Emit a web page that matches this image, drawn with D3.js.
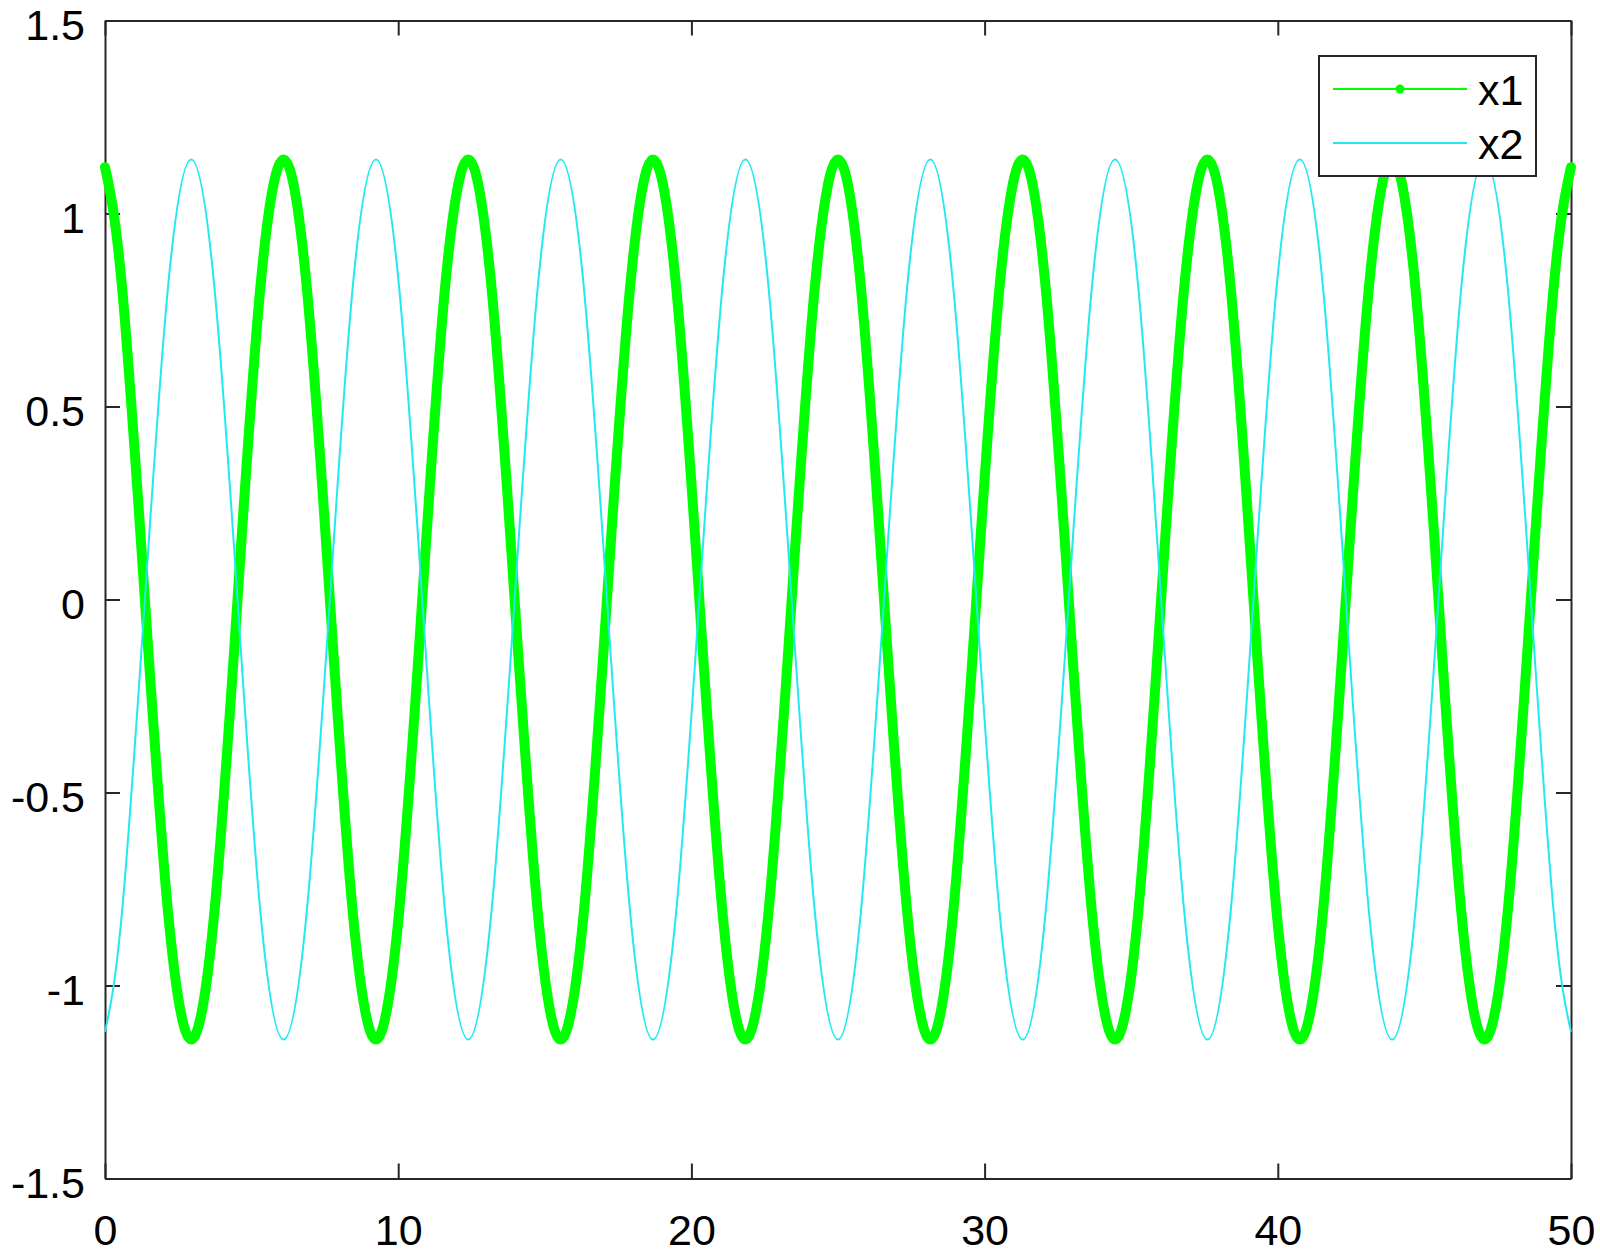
<!DOCTYPE html>
<html>
<head>
<meta charset="utf-8">
<script src="https://cdn.jsdelivr.net/npm/d3@7"></script>
<style>
  body { margin: 0; background: #fff; }
  svg { display: block; font-family: Arial, "Liberation Sans", Helvetica, sans-serif; }
</style>
</head>
<body>
<div id="chart"></div>
<script>
// time samples (peaks, troughs, zero crossings and the points between)
var t_data = [0, 0.58, 1.36, 2.15, 2.94, 3.73, 4.52, 5.30, 6.09,
              6.88, 7.67, 8.45, 9.24, 10.03, 10.82, 11.60, 12.39,
              13.18, 13.97, 14.76, 15.54, 16.33, 17.12, 17.91, 18.69,
              19.48, 20.27, 21.06, 21.84, 22.63, 23.42, 24.21, 25.00,
              25.78, 26.57, 27.36, 28.15, 28.93, 29.72, 30.51, 31.30,
              32.08, 32.87, 33.66, 34.45, 35.24, 36.02, 36.81, 37.60,
              38.39, 39.17, 39.96, 40.75, 41.54, 42.32, 43.11, 43.90,
              44.69, 45.48, 46.26, 47.05, 47.84, 48.63, 49.41, 50];

var x1_data = [1.12, 0.81, 0, -0.81, -1.14, -0.81, 0, 0.81, 1.14,
               0.81, 0, -0.81, -1.14, -0.81, 0, 0.81, 1.14,
               0.81, 0, -0.81, -1.14, -0.81, 0, 0.81, 1.14,
               0.81, 0, -0.81, -1.14, -0.81, 0, 0.81, 1.14,
               0.81, 0, -0.81, -1.14, -0.81, 0, 0.81, 1.14,
               0.81, 0, -0.81, -1.14, -0.81, 0, 0.81, 1.14,
               0.81, 0, -0.81, -1.14, -0.81, 0, 0.81, 1.14,
               0.81, 0, -0.81, -1.14, -0.81, 0, 0.81, 1.12];

var x2_data = [-1.12, -0.81, 0, 0.81, 1.14, 0.81, 0, -0.81, -1.14,
               -0.81, 0, 0.81, 1.14, 0.81, 0, -0.81, -1.14,
               -0.81, 0, 0.81, 1.14, 0.81, 0, -0.81, -1.14,
               -0.81, 0, 0.81, 1.14, 0.81, 0, -0.81, -1.14,
               -0.81, 0, 0.81, 1.14, 0.81, 0, -0.81, -1.14,
               -0.81, 0, 0.81, 1.14, 0.81, 0, -0.81, -1.14,
               -0.81, 0, 0.81, 1.14, 0.81, 0, -0.81, -1.14,
               -0.81, 0, 0.81, 1.14, 0.81, 0, -0.81, -1.12];

var x_ticks = [0, 10, 20, 30, 40, 50];
var y_ticks = [-1.5, -1, -0.5, 0, 0.5, 1, 1.5];
var y_tick_labels = ["-1.5", "-1", "-0.5", "0", "0.5", "1", "1.5"];
var series_names = ["x1", "x2"];

var width = 1600, height = 1254;
var margin = {top: 20.5, right: 29, bottom: 75.5, left: 105};
var axis_color = "#262626";

var svg = d3.select("#chart").append("svg").attr("width", width).attr("height", height);
var g = svg.append("g").attr("transform", "translate(" + margin.left + "," + margin.top + ")");

var plot_w = width - margin.left - margin.right,
    plot_h = height - margin.top - margin.bottom;

var x = d3.scaleLinear().domain([0, 50]).range([0, plot_w]);
var y = d3.scaleLinear().domain([-1.5, 1.5]).range([plot_h, 0]);

function styleAxis(sel) {
    sel.selectAll(".domain").attr("stroke", axis_color).attr("stroke-width", 2);
    sel.selectAll(".tick line").attr("stroke", axis_color).attr("stroke-width", 2);
    sel.selectAll("text").attr("fill", "#000").attr("font-size", "43px");
}

// box with inward ticks on all four sides
var bottom_axis = g.append("g").attr("transform", "translate(0," + plot_h + ")")
    .call(d3.axisBottom(x).tickValues(x_ticks).tickSize(-15).tickPadding(36).tickSizeOuter(0).tickFormat(d3.format("d")));
styleAxis(bottom_axis);

var top_axis = g.append("g")
    .call(d3.axisTop(x).tickValues(x_ticks).tickSize(-15).tickSizeOuter(0).tickFormat(""));
styleAxis(top_axis);

var left_axis = g.append("g")
    .call(d3.axisLeft(y).tickValues(y_ticks).tickSize(-15).tickPadding(20).tickSizeOuter(0)
          .tickFormat((d, i) => y_tick_labels[i]));
styleAxis(left_axis);
left_axis.selectAll("text").attr("dy", "0.45em");

var right_axis = g.append("g").attr("transform", "translate(" + plot_w + ",0)")
    .call(d3.axisRight(y).tickValues(y_ticks).tickSize(-15).tickSizeOuter(0).tickFormat(""));
styleAxis(right_axis);

// lines
var line = d3.line()
    .x((d) => x(d[0]))
    .y((d) => y(d[1]))
    .curve(d3.curveNatural);

var x1_pts = t_data.map((t, i) => [t, x1_data[i]]);
var x2_pts = t_data.map((t, i) => [t, x2_data[i]]);

g.append("path")
    .datum(x1_pts)
    .attr("d", line)
    .attr("fill", "none")
    .attr("stroke", "#00ff00")
    .attr("stroke-width", 10)
    .attr("stroke-linejoin", "round")
    .attr("stroke-linecap", "round");

g.append("path")
    .datum(x2_pts)
    .attr("d", line)
    .attr("fill", "none")
    .attr("stroke", "#22e8f2")
    .attr("stroke-width", 2);

// legend
var legend = svg.append("g").attr("transform", "translate(1319,56)");
legend.append("rect")
    .attr("width", 217).attr("height", 120)
    .attr("fill", "#fff")
    .attr("stroke", axis_color)
    .attr("stroke-width", 2);

var legend_colors = ["#00ff00", "#22e8f2"];
series_names.forEach(function(name, i) {
    var ly = 33 + i * 54;
    legend.append("line")
        .attr("x1", 14).attr("x2", 148).attr("y1", ly).attr("y2", ly)
        .attr("stroke", legend_colors[i])
        .attr("stroke-width", 2);
    if (i == 0) {
        legend.append("circle")
            .attr("cx", 81).attr("cy", ly).attr("r", 4.5)
            .attr("fill", legend_colors[i]);
    }
    legend.append("text")
        .attr("x", 159).attr("y", ly + 16)
        .attr("font-size", "43px")
        .attr("fill", "#000")
        .text(name);
});
</script>
</body>
</html>
